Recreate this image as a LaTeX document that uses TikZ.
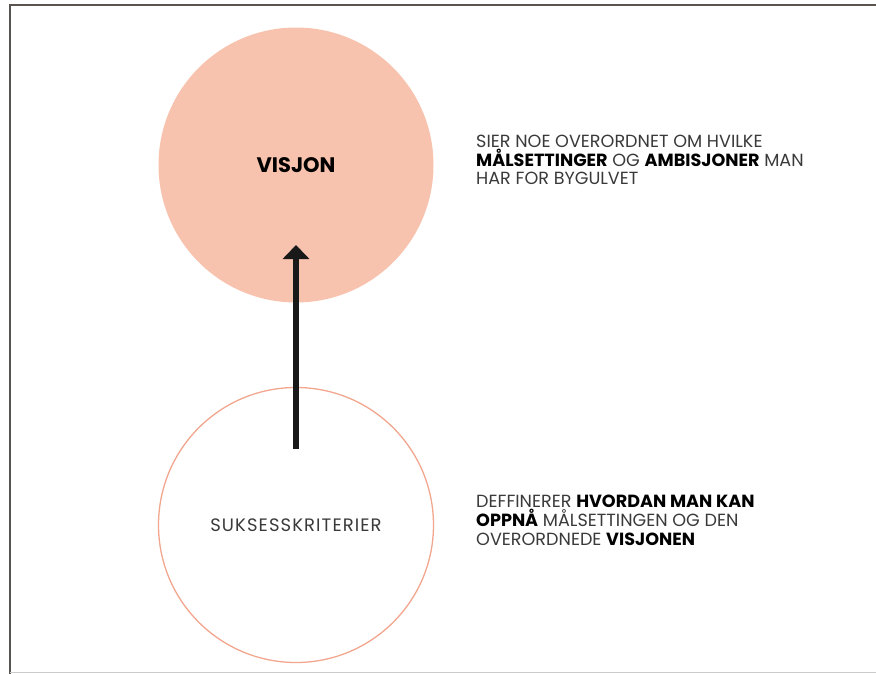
\documentclass[tikz,border=0pt]{standalone}
\usepackage{fontspec}
\setmainfont{Poppins}
\usetikzlibrary{positioning,calc,arrows.meta}
\definecolor{laks}{HTML}{F8C3AE}
\definecolor{laksline}{HTML}{F2A68E}
\definecolor{ramme}{HTML}{5A5450}
\definecolor{tekst}{HTML}{3A3A3A}
\begin{document}
\begin{tikzpicture}[x=1pt,y=-1pt,
    sirkel/.style={circle,minimum size=275pt,inner sep=0pt},
    forklaring/.style={anchor=base west,align=left,inner sep=0pt,text=tekst,
      font=\fontsize{17.6}{18.6}\selectfont}]
    \useasboundingbox (0,0) rectangle (876,674);
    \draw[ramme,line width=2.5pt] (10,674)--(10,5)--(876,5);
    \draw[black!20,line width=1.5pt] (10,672.5)--(876,672.5);
    \node[sirkel,fill=laks,font=\bfseries\fontsize{21}{21}\selectfont] (visjon) at (296,165) {VISJON};
    \node[sirkel,draw=laksline,line width=1.3pt,text=tekst,
      font=\fontsize{18}{18}\selectfont\addfontfeature{LetterSpace=6}] (krit) at (296,525) {SUKSESSKRITERIER};
    \coordinate (pilstart) at ($(krit.center)+(0,-76)$);
    \coordinate (pilslutt) at ($(visjon.center)+(0,80)$);
    \draw[-{Triangle[length=14pt,width=26pt]},line width=6pt,black!90] (pilstart)--(pilslutt);
    % base = grunnlinja til siste linje
    \node[forklaring] (tekst1) at (476,185) {SIER NOE OVERORDNET OM HVILKE\\\textbf{\color{black}MÅLSETTINGER} OG \textbf{\color{black}AMBISJONER} MAN\\HAR FOR BYGULVET};
    \node[forklaring] (tekst2) at (476,545) {DEFFINERER \textbf{\color{black}HVORDAN MAN KAN}\\\textbf{\color{black}OPPNÅ} MÅLSETTINGEN OG DEN\\OVERORDNEDE \textbf{\color{black}VISJONEN}};
  \end{tikzpicture}
\end{document}
